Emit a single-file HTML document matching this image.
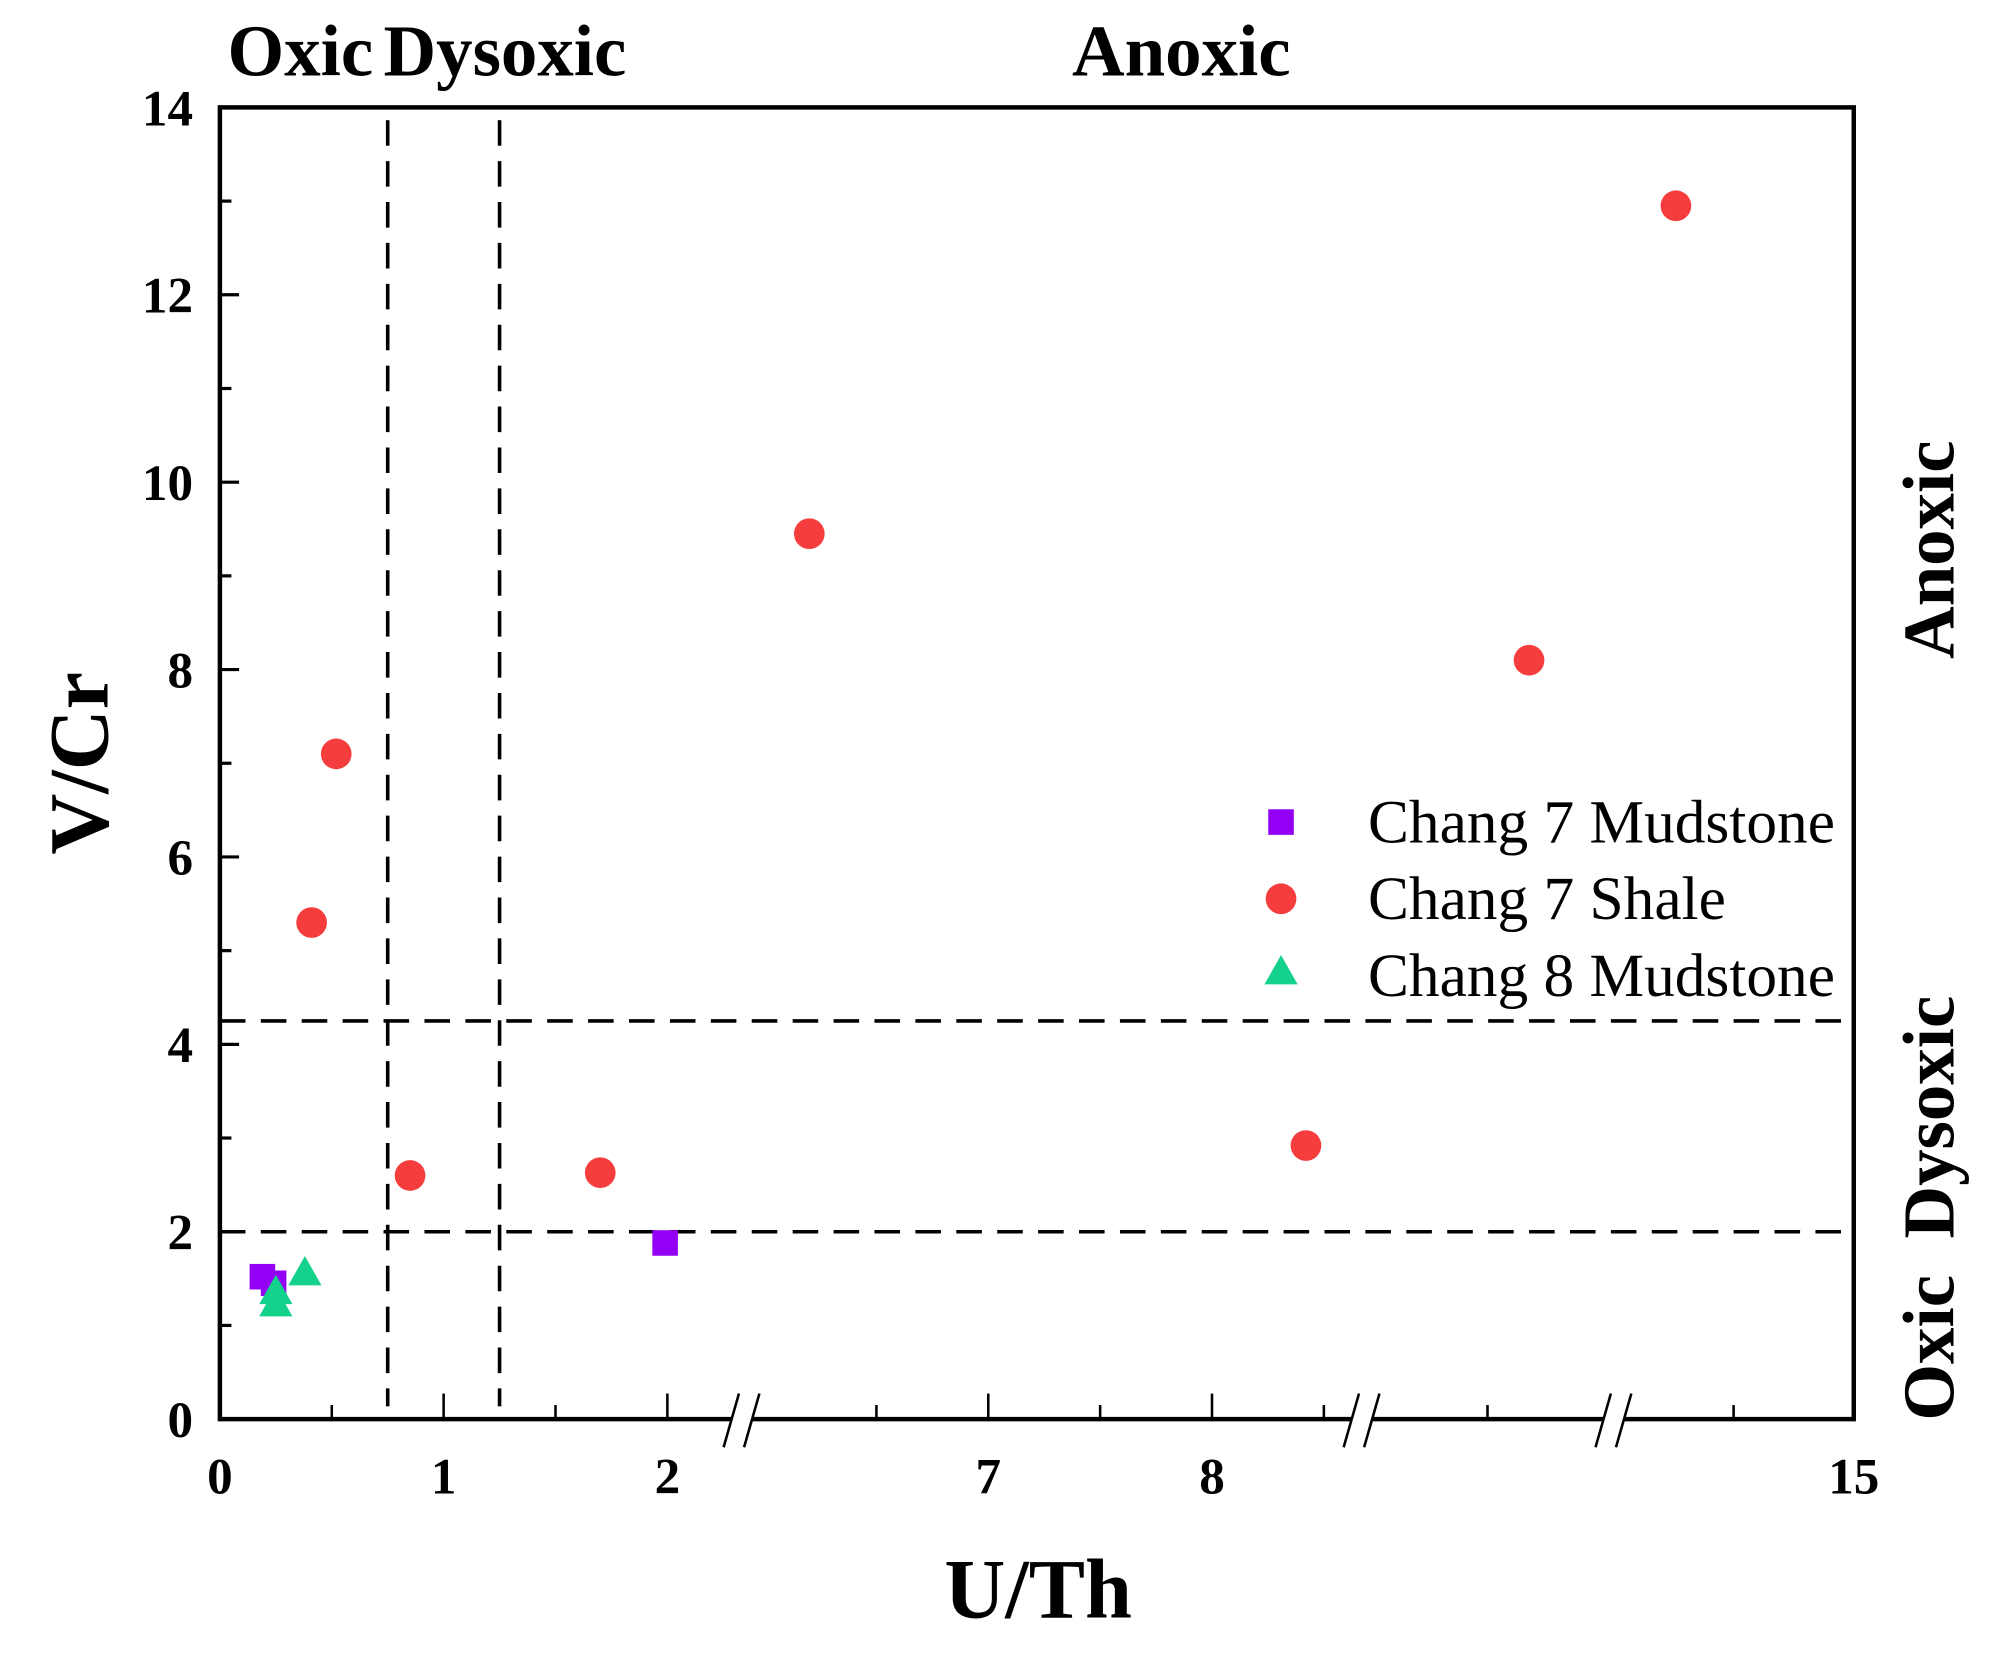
<!DOCTYPE html>
<html><head><meta charset="utf-8"><style>
html,body{margin:0;padding:0;background:#fff}
svg{display:block}
text{font-family:"Liberation Serif",serif;fill:#000}
</style></head><body>
<svg id="chart" width="2004" height="1655" viewBox="0 0 1567.5 1294.5" preserveAspectRatio="none" xmlns="http://www.w3.org/2000/svg">
<g id="g"></g>
</svg>
<script>
// ----- data -----
const mud7X = [0.19, 0.24, 1.99];
const mud7Y = [1.52, 1.45, 1.88];
const shaleX = [0.41, 0.52, 0.85, 1.70, 6.20, 8.42, 10.33, 13.52];
const shaleY = [5.30, 7.10, 2.60, 2.63, 9.45, 2.92, 8.10, 12.95];
const mud8X = [0.25, 0.25, 0.38];
const mud8Y = [1.35, 1.22, 1.55];
const yTicks = [0, 2, 4, 6, 8, 10, 12, 14];
const xTickVals = [0, 1, 2, 7, 8, 15];
const xTickLabels = ['0', '1', '2', '7', '8', '15'];
const xMinorVals = [0.5, 1.5, 6.5, 7.5, 8.5, 10, 14];
const vLines = [0.75, 1.25];
const hLines = [4.25, 2];

// ----- axes (broken x axis) -----
const L = 172, R = 1450, T = 84, B = 1110;
const segs = [
  {d0: 0, d1: 2.3314, p0: 172, p1: 580},
  {d0: 5.897, d1: 8.6686, p0: 580, p1: 1065},
  {d0: 9, d1: 11, p0: 1065, p1: 1262},
  {d0: 13, d1: 15, p0: 1262, p1: 1450}
];
const breaks = [580, 1065, 1262];
function xs(v) {
  for (const s of segs) if (v >= s.d0 && v <= s.d1) return s.p0 + (v - s.d0) / (s.d1 - s.d0) * (s.p1 - s.p0);
  return v < segs[0].d0 ? L : R;
}
function ys(v) { return B - v / 14 * (B - T); }

const NS = 'http://www.w3.org/2000/svg';
const g = document.getElementById('g');
function mk(tag, at, name, txt) {
  const e = document.createElementNS(NS, tag);
  for (const k in at) e.setAttribute(k, at[k]);
  
  
  if (txt !== undefined) e.textContent = txt;
  g.appendChild(e);
  return e;
}

// frame
mk('rect', {x: L, y: T, width: R - L, height: B - T, fill: 'none', stroke: '#000', 'stroke-width': 3.5}, 'plot-frame');

// y ticks
yTicks.forEach(v => {
  const y = ys(v);
  mk('line', {x1: L, x2: L + 15, y1: y, y2: y, stroke: '#000', 'stroke-width': 2.5}, 'y-tick');
  mk('text', {x: 151, y: y + 14, 'font-size': 40, 'font-weight': 'bold', 'text-anchor': 'end'}, 'y-tick-label', String(v));
  if (v < 14) {
    const ym = ys(v + 1);
    mk('line', {x1: L, x2: L + 9, y1: ym, y2: ym, stroke: '#000', 'stroke-width': 2.5}, 'y-minor-tick');
  }
});

// x ticks
xTickVals.forEach((v, i) => {
  const x = xs(v);
  mk('line', {x1: x, x2: x, y1: B, y2: B - 20, stroke: '#000', 'stroke-width': 2}, 'x-tick');
  mk('text', {x: x, y: B + 58, 'font-size': 40, 'font-weight': 'bold', 'text-anchor': 'middle'}, 'x-tick-label', xTickLabels[i]);
});
xMinorVals.forEach(v => {
  const x = xs(v);
  mk('line', {x1: x, x2: x, y1: B, y2: B - 11, stroke: '#000', 'stroke-width': 2}, 'x-minor-tick');
});

// axis breaks
breaks.forEach(bx => {
  mk('rect', {x: bx - 8, y: B - 4, width: 16, height: 8, fill: '#fff'}, 'axis-break-gap');
  mk('line', {x1: bx - 14, y1: B + 22, x2: bx - 2, y2: B - 20, stroke: '#000', 'stroke-width': 2}, 'axis-break-mark');
  mk('line', {x1: bx + 2, y1: B + 22, x2: bx + 14, y2: B - 20, stroke: '#000', 'stroke-width': 2}, 'axis-break-mark');
});

// threshold lines
vLines.forEach(v => {
  const x = xs(v);
  mk('line', {x1: x, x2: x, y1: T + 10, y2: B - 10, stroke: '#000', 'stroke-width': 2.8, 'stroke-dasharray': '20 12'}, 'u-th-threshold-line');
});
hLines.forEach(v => {
  const y = ys(v);
  mk('line', {x1: L, x2: R, y1: y, y2: y, stroke: '#000', 'stroke-width': 2.8, 'stroke-dasharray': '20 12'}, 'v-cr-threshold-line');
});

// markers
shaleX.forEach((v, i) => {
  mk('circle', {cx: xs(v), cy: ys(shaleY[i]), r: 12, fill: '#f53d3d'}, 'chang7-shale-point');
});
mud7X.forEach((v, i) => {
  mk('rect', {x: xs(v) - 10, y: ys(mud7Y[i]) - 10, width: 20, height: 20, fill: '#9400f5'}, 'chang7-mudstone-point');
});
mud8X.forEach((v, i) => {
  const x = xs(v), y = ys(mud8Y[i]);
  mk('polygon', {points: `${x},${y - 14} ${x - 13},${y + 9} ${x + 13},${y + 9}`, fill: '#14d28c'}, 'chang8-mudstone-point');
});

// legend
mk('rect', {x: 992, y: 633, width: 20, height: 20, fill: '#9400f5'}, 'legend-symbol-chang7-mudstone');
mk('text', {x: 1070, y: 659, 'font-size': 48}, 'legend-label-chang7-mudstone', 'Chang 7 Mudstone');
mk('circle', {cx: 1002, cy: 703, r: 12, fill: '#f53d3d'}, 'legend-symbol-chang7-shale');
mk('text', {x: 1070, y: 719, 'font-size': 48}, 'legend-label-chang7-shale', 'Chang 7 Shale');
mk('polygon', {points: '1002,747 989,770 1015,770', fill: '#14d28c'}, 'legend-symbol-chang8-mudstone');
mk('text', {x: 1070, y: 779, 'font-size': 48}, 'legend-label-chang8-mudstone', 'Chang 8 Mudstone');

// region labels
mk('text', {x: 178, y: 59, 'font-size': 57, 'font-weight': 'bold'}, 'top-label-oxic', 'Oxic');
mk('text', {x: 300, y: 59, 'font-size': 57, 'font-weight': 'bold'}, 'top-label-dysoxic', 'Dysoxic');
mk('text', {x: 924, y: 59, 'font-size': 57, 'font-weight': 'bold', 'text-anchor': 'middle'}, 'top-label-anoxic', 'Anoxic');
mk('text', {x: 0, y: 0, 'font-size': 57, 'font-weight': 'bold', 'text-anchor': 'middle', transform: 'translate(1528,430) rotate(-90)'}, 'right-label-anoxic', 'Anoxic');
mk('text', {x: 0, y: 0, 'font-size': 57, 'font-weight': 'bold', 'text-anchor': 'middle', transform: 'translate(1528,945) rotate(-90)'}, 'right-label-oxic-dysoxic', 'Oxic\u00a0\u00a0Dysoxic');

// axis titles
mk('text', {x: 812, y: 1265, 'font-size': 66, 'font-weight': 'bold', 'text-anchor': 'middle'}, 'x-axis-title', 'U/Th');
mk('text', {x: 0, y: 0, 'font-size': 66, 'font-weight': 'bold', 'text-anchor': 'middle', transform: 'translate(84,597) rotate(-90)'}, 'y-axis-title', 'V/Cr');
</script>
</body></html>
